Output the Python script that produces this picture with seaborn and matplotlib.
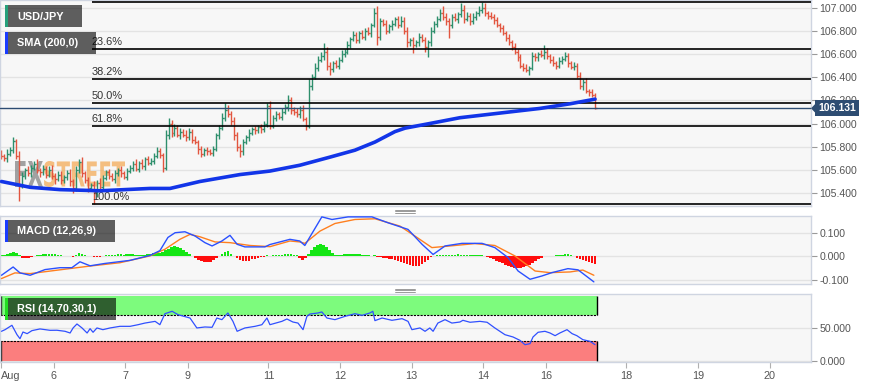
import numpy as np
import matplotlib
matplotlib.use("Agg")
import matplotlib.pyplot as plt
import seaborn as sns
from matplotlib.patches import Rectangle, PathPatch, Polygon
from matplotlib.lines import Line2D
from matplotlib.textpath import TextPath
from matplotlib.font_manager import FontProperties
from matplotlib.transforms import Affine2D, IdentityTransform, blended_transform_factory

# ===== data (hourly USD/JPY bars) =====
FIRST_OPEN = 105.74
CLOSE = [
    105.72, 105.70, 105.74, 105.77, 105.85, 105.72, 105.46, 105.55, 105.60, 105.57,
    105.62, 105.65, 105.60, 105.58, 105.61, 105.56, 105.60, 105.55, 105.52, 105.56,
    105.51, 105.54, 105.57, 105.50, 105.44, 105.60, 105.67, 105.57, 105.51, 105.44,
    105.47, 105.40, 105.49, 105.45, 105.53, 105.58, 105.55, 105.52, 105.57, 105.60,
    105.57, 105.54, 105.59, 105.62, 105.65, 105.61, 105.66, 105.63, 105.69, 105.66,
    105.68, 105.72, 105.76, 105.73, 105.62, 105.90, 106.00, 105.92, 105.96, 105.90,
    105.93, 105.90, 105.88, 105.93, 105.86, 105.84, 105.78, 105.74, 105.77, 105.76,
    105.75, 105.78, 105.90, 105.96, 106.05, 106.12, 106.08, 106.02, 105.90, 105.80,
    105.76, 105.84, 105.88, 105.92, 105.95, 105.94, 105.97, 105.95, 106.00, 106.15,
    105.98, 106.05, 106.08, 106.06, 106.10, 106.14, 106.20, 106.12, 106.10, 106.08,
    106.12, 106.04, 105.98, 106.32, 106.40, 106.48, 106.55, 106.58, 106.62, 106.50,
    106.47, 106.52, 106.50, 106.55, 106.60, 106.62, 106.68, 106.73, 106.76, 106.72,
    106.78, 106.75, 106.80, 106.78, 106.85, 106.95, 106.75, 106.88, 106.86, 106.80,
    106.84, 106.86, 106.90, 106.85, 106.88, 106.80, 106.70, 106.72, 106.68, 106.70,
    106.75, 106.72, 106.66, 106.70, 106.80, 106.86, 106.90, 106.95, 106.92, 106.88,
    106.85, 106.92, 106.90, 106.94, 106.98, 106.90, 106.93, 106.88, 106.92, 106.95,
    106.98, 107.00, 106.95, 106.93, 106.92, 106.89, 106.85, 106.82, 106.78, 106.74,
    106.70, 106.66, 106.62, 106.57, 106.50, 106.48, 106.46, 106.48, 106.58, 106.57,
    106.60, 106.59, 106.62, 106.58, 106.55, 106.52, 106.50, 106.54, 106.56, 106.58,
    106.52, 106.49, 106.50, 106.41, 106.32, 106.36, 106.28, 106.27, 106.25, 106.131,
]
# wick lengths above / below the body, in pips
WICK_UP = [
    3, 2, 4, 3, 3, 2, 4, 3, 2, 3,   2, 3, 4, 2, 3, 2, 3, 4, 2, 3,
    3, 2, 3, 4, 2, 3, 2, 4, 2, 3,   2, 3, 2, 4, 3, 2, 3, 2, 3, 2,
    3, 2, 3, 2, 3, 4, 2, 3, 2, 3,   2, 3, 4, 3, 2, 4, 5, 3, 4, 3,
    3, 2, 4, 3, 2, 3, 2, 3, 2, 3,   2, 3, 2, 3, 4, 6, 4, 3, 4, 3,
    2, 3, 2, 3, 2, 3, 2, 3, 2, 3,   4, 2, 3, 2, 3, 3, 5, 3, 2, 3,
    3, 4, 2, 6, 3, 4, 3, 4, 7, 4,   3, 2, 3, 2, 3, 2, 3, 2, 4, 3,
    2, 3, 2, 3, 2, 5, 6, 3, 2, 3,   2, 3, 2, 3, 5, 4, 3, 2, 3, 2,
    3, 2, 3, 2, 3, 2, 3, 4, 6, 3,   3, 2, 3, 2, 6, 4, 3, 2, 3, 2,
    3, 5, 4, 2, 3, 2, 3, 2, 3, 2,   3, 2, 3, 2, 3, 2, 3, 2, 4, 3,
    2, 3, 6, 3, 2, 3, 2, 3, 2, 4,   3, 2, 3, 2, 3, 2, 3, 2, 3, 1,
]
WICK_DN = [
    3, 2, 3, 2, 2, 3, 13, 2, 3, 2,  3, 2, 3, 4, 2, 3, 2, 3, 4, 2,
    3, 2, 3, 4, 4, 2, 3, 3, 2, 3,   2, 9, 3, 2, 3, 2, 3, 2, 3, 2,
    3, 2, 3, 2, 3, 2, 3, 2, 3, 2,   2, 3, 2, 3, 4, 2, 3, 4, 3, 2,
    3, 2, 3, 2, 3, 2, 4, 3, 2, 3,   2, 3, 2, 3, 2, 3, 2, 3, 4, 4,
    5, 3, 2, 3, 2, 3, 2, 3, 2, 3,   3, 2, 3, 2, 3, 2, 3, 4, 3, 2,
    3, 2, 4, 2, 3, 2, 3, 2, 3, 4,   5, 3, 2, 3, 2, 3, 2, 3, 2, 3,
    3, 2, 3, 2, 3, 2, 7, 3, 2, 3,   2, 3, 2, 3, 2, 3, 4, 3, 7, 2,
    3, 2, 4, 9, 3, 2, 3, 2, 3, 3,   11, 3, 2, 3, 2, 3, 2, 3, 2, 3,
    2, 3, 2, 3, 2, 3, 2, 3, 2, 3,   2, 3, 2, 3, 2, 3, 2, 4, 2, 3,
    3, 2, 3, 2, 3, 2, 3, 2, 3, 2,   3, 2, 3, 2, 2, 3, 2, 3, 2, 1,
]
LAST_PRICE = 106.131

SMA_X = [0, 9.6, 19.6, 33, 49.8, 56.5, 66.5, 80, 90, 100, 110.1, 118.5, 125.2,
         131.9, 135.3, 143.6, 153.7, 167.1, 180.5, 190.6, 199]
SMA_Y = [105.50, 105.45, 105.43, 105.42, 105.44, 105.44, 105.50, 105.56, 105.59,
         105.64, 105.71, 105.77, 105.84, 105.93, 105.96, 106.00, 106.05, 106.09,
         106.13, 106.17, 106.21]

FIB_HIGH, FIB_LOW, FIB_START = 107.052, 105.31, 30.3
FIB_LEVELS = [0.0, 23.6, 38.2, 50.0, 61.8, 100.0]

MACD_X = [0, 3.9, 6.2, 9.6, 14.6, 19.6, 23.6, 26.3, 29.7, 34.7, 43.1, 49.8, 53.1,
          55.8, 58.2, 61.5, 64.9, 68.2, 70.6, 73.9, 76.6, 79, 81.6, 88.3, 90, 96.7,
          100, 101.7, 107.4, 110.8, 116.2, 124.2, 129.6, 136.3, 141, 144.7, 148.7,
          154.4, 161.1, 165.4, 169.8, 173.2, 177.2, 181.2, 184.5, 189.9, 193.3, 198.6]
MACD_Y = [-0.080, -0.045, -0.070, -0.080, -0.056, -0.048, -0.048, -0.023, -0.040,
          -0.030, -0.017, 0.004, 0.024, 0.080, 0.100, 0.104, 0.086, 0.058, 0.044,
          0.065, 0.089, 0.051, 0.040, 0.040, 0.050, 0.072, 0.065, 0.046, 0.167,
          0.156, 0.167, 0.167, 0.142, 0.114, 0.051, 0.008, 0.044, 0.055, 0.055,
          0.037, -0.005, -0.062, -0.097, -0.083, -0.069, -0.052, -0.057, -0.108]
SIG_X = [0, 4.5, 9.6, 19.6, 29.7, 39.7, 49.8, 54.8, 59.8, 63.2, 66.5, 71.6, 76.6,
         83.3, 90, 96.7, 100, 101.7, 106.8, 111.8, 118.5, 125.2, 133.6, 138.6, 144.3,
         150.4, 158.7, 165.4, 172.1, 178.9, 183.9, 190.6, 194.9, 198.6]
SIG_Y = [-0.094, -0.070, -0.073, -0.057, -0.041, -0.027, 0.002, 0.030, 0.072, 0.093,
         0.083, 0.061, 0.058, 0.046, 0.041, 0.065, 0.061, 0.055, 0.107, 0.139, 0.156,
         0.159, 0.128, 0.086, 0.037, 0.044, 0.054, 0.046, 0.002, -0.062, -0.069,
         -0.066, -0.058, -0.080]
# histogram per bar, thousandths
HIST = [
    4, 5, 10, 16, 20, 14, 4, -5, -7, -6,          -3, 1, 4, 7, 9, 11, 12, 10, 8, 6,
    4, 3, 3, 2, -1, 6, 15, 12, 6, 3,              1, -3, -4, -2, 1, 4, 5, 6, 7, 8,
    8, 7, 8, 9, 9, 7, 6, 7, 6, 8,                 10, 13, 15, 14, 18, 26, 33, 38, 42, 40,
    34, 28, 20, 12, 3, -5, -14, -20, -24, -25,    -22, -15, -6, 2, 8, 18, 21, 12, 2, -8,
    -16, -20, -21, -18, -13, -10, -7, -4, -1, 4,  2, 4, 5, 6, 7, 9, 10, 8, 6, 4,
    -6, -14, -8, 10, 25, 38, 48, 53, 50, 40,      26, 14, 6, 5, 6, 8, 9, 10, 11, 10,
    8, 7, 6, 4, 3, 5, -2, -4, -6, -8,             -10, -11, -14, -18, -22, -28, -34, -38, -41, -42,
    -40, -34, -25, -14, -4, 3, 5, 6, 6, 7,        6, 6, 7, 8, 7, 6, 6, 5, 6, 5,
    5, 4, 2, -3, -7, -12, -18, -24, -30, -36,     -41, -45, -48, -49, -48, -46, -42, -36, -28, -20,
    -12, -5, 0, 2, 3, 3, 4, 5, 6, 8,              9, 6, 2, -6, -12, -16, -20, -24, -28, -31,
]

RSI_X = [0, 1.2, 3.5, 5.2, 6.2, 7.2, 8.6, 10.2, 12.9, 16.3, 18.6, 21.3, 23, 24,
         25.3, 27, 28.7, 29.7, 30.7, 32, 34, 36.4, 39.7, 43.1, 45.8, 48.1, 51.5,
         53.1, 54.8, 57.2, 59.2, 63.2, 65.5, 68.2, 70.6, 72.2, 73.9, 75.9, 77.6, 79,
         81.6, 85, 87.3, 89, 90, 94, 95.7, 97.7, 99.4, 101.1, 102.4, 103.4, 106.1,
         107.4, 109.1, 111.8, 115.2, 118.5, 120.9, 123.5, 124.5, 125.2, 127.6, 130.9,
         134.3, 136.3, 137.6, 140.3, 142, 143.6, 144.7, 146.3, 148.7, 151, 153.7,
         154.7, 157.1, 160.4, 162.8, 165.4, 168.8, 171.5, 173.8, 175.5, 177.2, 178.2,
         179.9, 182.2, 183.9, 185.6, 187.2, 189.6, 191.3, 192.9, 194.9, 197.3, 199]
RSI_Y = [45.4, 47.9, 54.6, 40.2, 34.1, 44.3, 41.8, 46.4, 49.0, 46.9, 47.0, 45.4, 42.8,
         50.5, 56.6, 50.5, 42.8, 49.4, 43.9, 50.5, 47.9, 50.5, 53.0, 53.0, 55.5, 58.0,
         60.6, 55.5, 72.3, 76.0, 70.8, 65.7, 50.5, 52.0, 51.5, 65.7, 63.2, 73.4, 60.6,
         45.4, 50.5, 53.0, 55.5, 65.7, 55.5, 60.6, 64.2, 59.6, 58.0, 47.9, 68.3, 71.8,
         73.4, 75.0, 65.7, 63.2, 68.3, 72.3, 69.8, 73.4, 76.0, 61.7, 65.7, 62.2, 64.7,
         60.6, 47.9, 50.5, 45.4, 50.5, 45.4, 58.0, 63.2, 58.0, 59.6, 62.2, 59.2, 60.6,
         59.2, 50.5, 40.2, 36.7, 31.6, 24.9, 26.5, 36.7, 43.9, 45.4, 42.8, 38.7, 42.8,
         47.9, 41.8, 38.7, 32.6, 30.1, 24.9]

TICK_POS = [-0.3, 17.5, 41.5, 62.5, 89.5, 113.5, 137.5, 161.5, 182.5, 209.5, 233.5, 257.5]
TICK_LAB = ["Aug", "6", "7", "9", "11", "12", "13", "14", "16", "18", "19", "20"]
PRICE_TICKS = [105.4, 105.6, 105.8, 106.0, 106.2, 106.4, 106.6, 106.8, 107.0]
MACD_TICKS = [-0.1, 0.0, 0.1]
RSI_TICKS = [0, 50]

# ===== style =====
FIG_W, FIG_H = 882, 388
UP, DOWN = "#2e8f6c", "#e2553f"
PANEL_BG, SPINE = "#f7f7f7", "#cfd5e1"
TXT = "#555555"

sns.set_theme(style="white")
plt.rcParams["font.family"] = ["Liberation Sans", "DejaVu Sans"]

fig = plt.figure(figsize=(FIG_W / 100, FIG_H / 100), dpi=100)
fig.patch.set_facecolor("white")


def panel(top, bottom):
    ax = fig.add_axes([0, 1 - bottom / FIG_H, 811 / FIG_W, (bottom - top) / FIG_H])
    ax.set_facecolor(PANEL_BG)
    for s in ax.spines.values():
        s.set_color(SPINE)
        s.set_linewidth(1.0)
    ax.set_xlim(-0.5, 271.4)
    ax.yaxis.tick_right()
    ax.tick_params(axis="y", labelsize=7.6, labelcolor=TXT, color="#9a9a9a",
                   length=4, width=0.8, pad=2, left=False, right=True)
    ax.tick_params(axis="x", bottom=False, labelbottom=False)
    ax.grid(axis="y", color="#e3e3e3", lw=1.0)
    ax.grid(axis="x", visible=False)
    ax.set_axisbelow(True)
    return ax


ax_p = panel(0, 205.5)
ax_m = panel(215.7, 284)
ax_r = panel(293.7, 361.7)

# watermark behind the bars (display pixels)
fp = FontProperties(family="DejaVu Sans", weight="bold")
for txt, x0, x1, c, al in (("FX", 15, 43, "#8c8c8c", 0.8), ("STREET", 44, 125, "#f3ab58", 0.75)):
    tp = TextPath((0, 0), txt, size=40, prop=fp)
    ext = tp.get_extents()
    tr = (Affine2D().translate(-ext.x0, -ext.y0)
          .scale((x1 - x0) / ext.width, 26 / ext.height)
          .translate(x0, FIG_H - 187))
    ax_p.add_artist(PathPatch(tr.transform_path(tp), fc=c, ec="none", alpha=al,
                              transform=IdentityTransform(), zorder=1.5))

# ---- price panel
x = np.arange(len(CLOSE))
close = np.array(CLOSE)
opn = np.r_[FIRST_OPEN, close[:-1]]
hi = np.maximum(opn, close) + np.array(WICK_UP) / 100
lo = np.minimum(opn, close) - np.array(WICK_DN) / 100
col = np.where(close >= opn, UP, DOWN)
ax_p.vlines(x, lo, hi, colors=col, lw=1.0, zorder=2)
ax_p.hlines(opn, x - 0.5, x, colors=col, lw=1.0, zorder=2)
ax_p.hlines(close, x, x + 0.5, colors=col, lw=1.0, zorder=2)

sns.lineplot(x=SMA_X, y=SMA_Y, ax=ax_p, color="#1235e8", linewidth=2.6, zorder=4)

for lvl in FIB_LEVELS:
    p = FIB_HIGH - (FIB_HIGH - FIB_LOW) * lvl / 100
    ax_p.hlines(p, FIB_START, 271.4, color="black", lw=1.2, zorder=3)
    if lvl > 0:
        ax_p.annotate(f"{lvl:.1f}%", (FIB_START, p), xytext=(0, 2), textcoords="offset pixels",
                      ha="left", va="bottom", fontsize=7.9, color="#333333", zorder=3)

ax_p.axhline(LAST_PRICE, color="#2d4c72", lw=1.0, zorder=3)
ax_p.set_ylim(105.293, 107.065)
ax_p.set_yticks(PRICE_TICKS, [f"{v:.3f}" for v in PRICE_TICKS])
ax_p.annotate(f"{LAST_PRICE:.3f}", xy=(1.0, LAST_PRICE), xycoords=("axes fraction", "data"),
              xytext=(7, 0), textcoords="offset pixels", ha="left", va="center",
              fontsize=7.6, fontweight="bold", color="white", annotation_clip=False, zorder=6,
              bbox=dict(boxstyle="square,pad=0.28", fc="#2d4c72", ec="none"))
ax_p.add_patch(Polygon([(1.0, LAST_PRICE), (1.0055, LAST_PRICE + 0.04), (1.0055, LAST_PRICE - 0.04)],
                       closed=True, fc="#2d4c72", ec="none", clip_on=False, zorder=6,
                       transform=blended_transform_factory(ax_p.transAxes, ax_p.transData)))

# ---- MACD panel
hist = np.array(HIST) / 1000
ax_m.bar(x, hist, width=0.85, color=np.where(hist >= 0, "#14e614", "#ff0d0d"), lw=0, zorder=2)
sns.lineplot(x=SIG_X, y=SIG_Y, ax=ax_m, color="#ff7f1f", linewidth=1.0, zorder=3)
sns.lineplot(x=MACD_X, y=MACD_Y, ax=ax_m, color="#2a50ff", linewidth=1.0, zorder=4)
ax_m.set_ylim(-0.117, 0.172)
ax_m.set_yticks(MACD_TICKS, [f"{v:.3f}" for v in MACD_TICKS])

# ---- RSI panel
end = len(CLOSE) - 0.5
ax_r.add_patch(Rectangle((-0.5, 70), end + 0.5, 30, fc="#7dfb7d", ec="none", zorder=1))
ax_r.add_patch(Rectangle((-0.5, 0), end + 0.5, 30, fc="#fb7e7e", ec="none", zorder=1))
ax_r.hlines([70, 30], -0.5, end, colors="black", lw=0.8, linestyles=(0, (2, 1)), zorder=2)
ax_r.vlines([end, end], [70, 0], [100, 30], colors="black", lw=1.0, zorder=2)
ax_r.vlines([-0.3, -0.3], [70, 0], [100, 30], colors="#222222", lw=1.0, zorder=2)
sns.lineplot(x=RSI_X, y=RSI_Y, ax=ax_r, color="#3050ff", linewidth=0.9, zorder=3)
ax_r.set_ylim(-1.1, 102.9)
ax_r.set_yticks(RSI_TICKS, [f"{v:.3f}" for v in RSI_TICKS])
ax_r.set_xticks(TICK_POS, TICK_LAB)
ax_r.tick_params(axis="x", bottom=True, labelbottom=True, labelsize=7.8, labelcolor=TXT,
                 color="#b0b0b0", length=4, width=0.8, pad=3)
ax_r.get_xticklabels()[0].set_ha("left")

for a in (ax_p, ax_m, ax_r):
    a.set_xlabel("")
    a.set_ylabel("")
    a.set_xlim(-0.5, 271.4)


# ---- overlay boxes (figure pixels, origin top-left)
def fx(px):
    return px / FIG_W


def fy(py):
    return 1 - py / FIG_H


def label_box(x0, y0, w, h, text, strip):
    fig.add_artist(Rectangle((fx(x0), fy(y0 + h)), w / FIG_W, h / FIG_H, transform=fig.transFigure,
                             fc="black", alpha=0.62, ec="none", zorder=5))
    fig.add_artist(Rectangle((fx(x0), fy(y0 + h)), 3 / FIG_W, h / FIG_H, transform=fig.transFigure,
                             fc=strip, ec="none", zorder=6))
    fig.text(fx(x0 + 12), fy(y0 + h / 2 + 0.5), text, color="white", fontsize=7.8,
             fontweight="bold", ha="left", va="center", zorder=7)


label_box(5, 5, 77, 22, "USD/JPY", "#26a07b")
label_box(5, 32, 91, 22, "SMA (200,0)", "#1a3cff")
label_box(5, 220, 110, 22, "MACD (12,26,9)", "#1a3cff")
label_box(5, 298, 111, 22, "RSI (14,70,30,1)", "#22dd22")

# drag handles between panels
for yy in (209.5, 288.5):
    for k in range(3):
        fig.add_artist(Line2D([fx(395), fx(415)], [fy(yy + 1.5 * k)] * 2, color="#8a8a8a",
                              lw=0.6, transform=fig.transFigure))

fig.savefig("out.png", dpi=100, facecolor="white")
